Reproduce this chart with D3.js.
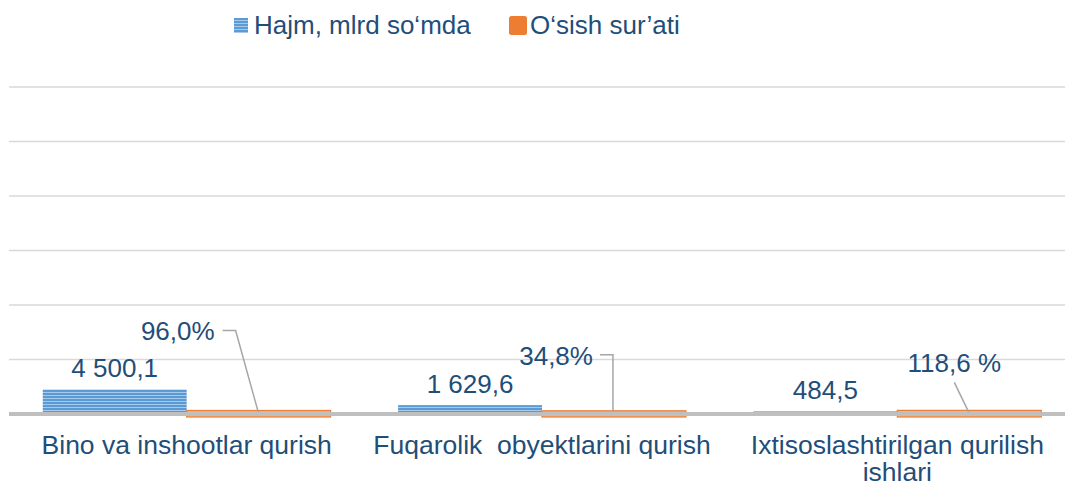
<!DOCTYPE html>
<html>
<head>
<meta charset="utf-8">
<script src="https://cdn.jsdelivr.net/npm/d3@7"></script>
<style>
  body { margin: 0; background: #fff; }
  text { font-family: "Liberation Sans", Arial, sans-serif; fill: #1f4e79; }
</style>
</head>
<body>
<div id="chart"></div>
<script>
// chart data
var categories = ["Bino va inshootlar qurish", "Fuqarolik  obyektlarini qurish", "Ixtisoslashtirilgan qurilish ishlari"];
var volume = [4500.1, 1629.6, 484.5];          // Hajm, mlrd so'mda
var growth = [96.0, 34.8, 118.6];               // O'sish sur'ati, %
var volumeLabels = ["4 500,1", "1 629,6", "484,5"];
var growthLabels = ["96,0%", "34,8%", "118,6 %"];
var seriesNames = ["Hajm, mlrd so\u2018mda", "O\u2018sish sur\u2019ati"];
var yTicks = [0, 10000, 20000, 30000, 40000, 50000, 60000];

var svgWidth = 1065;
var svgHeight = 486;

var svg = d3.select("#chart")
  .append("svg")
  .attr("width", svgWidth)
  .attr("height", svgHeight);

// striped fill for the volume bars
var defs = svg.append("defs");
var pat = defs.append("pattern")
  .attr("id", "stripes")
  .attr("patternUnits", "userSpaceOnUse")
  .attr("width", 8)
  .attr("height", 3);
pat.append("rect").attr("width", 8).attr("height", 3).attr("fill", "#a9c9ea");
pat.append("rect").attr("width", 8).attr("height", 2).attr("fill", "#5b9bd5");

var x0 = d3.scaleBand()
  .domain(categories)
  .range([9, 1075])
  .paddingInner(0.19)
  .paddingOuter(0.095);

var x1 = d3.scaleBand()
  .domain(["vol", "gr"])
  .range([0, x0.bandwidth()]);

var y = d3.scaleLinear()
  .domain([0, 60000])
  .range([414, 87]);

// gridlines
svg.append("g")
  .selectAll("line")
  .data(yTicks.slice(1))
  .enter()
  .append("line")
  .attr("x1", 9)
  .attr("x2", svgWidth)
  .attr("y1", d => y(d))
  .attr("y2", d => y(d))
  .attr("stroke", "#d9d9d9")
  .attr("stroke-width", 1.5);

var groups = svg.append("g")
  .selectAll("g")
  .data(categories)
  .enter()
  .append("g")
  .attr("transform", d => `translate(${x0(d)},0)`);

// volume bars
groups.append("rect")
  .attr("x", x1("vol"))
  .attr("width", x1.bandwidth())
  .attr("y", (d, i) => y(volume[i]))
  .attr("height", (d, i) => y(0) - y(volume[i]))
  .attr("fill", "url(#stripes)");

// growth bars (tiny on this scale)
groups.append("rect")
  .attr("x", x1("gr"))
  .attr("width", x1.bandwidth())
  .attr("y", (d, i) => y(growth[i]) - 3)
  .attr("height", (d, i) => y(0) - y(growth[i]) + 6)
  .attr("fill", "#f4b183")
  .attr("stroke", "#ed7d31")
  .attr("stroke-width", 1.2);

// category axis line
svg.append("line")
  .attr("x1", 9)
  .attr("x2", svgWidth)
  .attr("y1", y(0))
  .attr("y2", y(0))
  .attr("stroke", "#bfbfbf")
  .attr("stroke-width", 4);

// volume labels
groups.append("text")
  .attr("x", x1("vol") + x1.bandwidth() / 2)
  .attr("y", (d, i) => y(volume[i]) - 12)
  .attr("text-anchor", "middle")
  .attr("font-size", 26)
  .text((d, i) => volumeLabels[i]);

// growth labels with leader lines (points relative to bar top centre)
var labelOffsets = [
  { tx: -44, ty: -73, path: [[0, 0], [-23, -83], [-36, -83]] },
  { tx: -21, ty: -49, path: [[-1, 0], [-1, -59], [-14, -59]] },
  { tx: -15, ty: -41, path: [[0, 0], [-15, -31]] }
];

groups.each(function(d, i) {
  var g = d3.select(this);
  var cx = x1("gr") + x1.bandwidth() / 2;
  var cy = y(growth[i]);
  var o = labelOffsets[i];
  var pts = o.path.map(p => [cx + p[0], cy + p[1]]);
  g.append("path")
    .attr("d", d3.line()(pts))
    .attr("fill", "none")
    .attr("stroke", "#a6a6a6")
    .attr("stroke-width", 1.5);
  g.append("text")
    .attr("x", cx + o.tx)
    .attr("y", cy + o.ty)
    .attr("text-anchor", i == 2 ? "middle" : "end")
    .attr("font-size", 26)
    .text(growthLabels[i]);
});

// category labels
var catText = svg.append("g")
  .selectAll("text")
  .data(categories)
  .enter()
  .append("text")
  .attr("x", d => x0(d) + x0.bandwidth() / 2)
  .attr("y", 454)
  .attr("text-anchor", "middle")
  .attr("font-size", 26.5)
  .style("white-space", "pre");

catText.each(function(d, i) {
  var t = d3.select(this);
  var lines = i == 2 ? ["Ixtisoslashtirilgan qurilish", "ishlari"] : [d];
  lines.forEach(function(l, k) {
    t.append("tspan")
      .attr("x", x0(d) + x0.bandwidth() / 2)
      .attr("dy", k == 0 ? 0 : 26.5)
      .text(l);
  });
});

// legend
var legend = svg.append("g");
legend.append("rect")
  .attr("x", 234).attr("y", 18).attr("width", 14).attr("height", 15)
  .attr("fill", "url(#stripes)");
legend.append("text")
  .attr("x", 254).attr("y", 34)
  .attr("font-size", 26)
  .text(seriesNames[0]);
legend.append("rect")
  .attr("x", 509).attr("y", 16).attr("width", 18).attr("height", 19)
  .attr("rx", 2.5)
  .attr("fill", "#ed7d31");
legend.append("text")
  .attr("x", 530).attr("y", 34)
  .attr("font-size", 26)
  .text(seriesNames[1]);
</script>
</body>
</html>
